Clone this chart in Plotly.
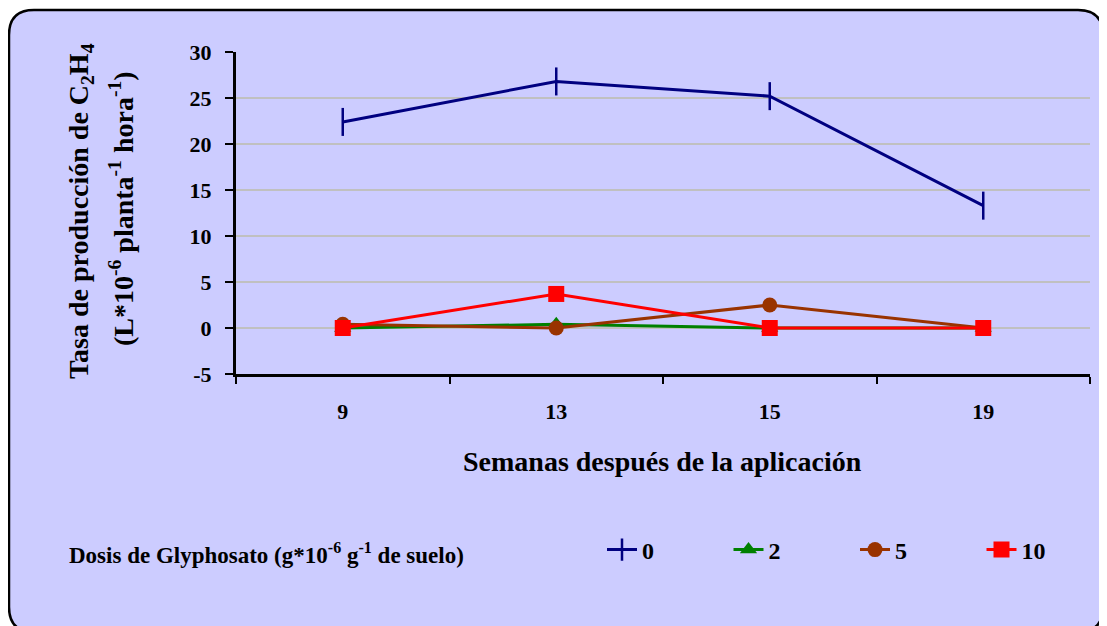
import plotly.graph_objects as go

weeks = ["9", "13", "15", "19"]
dose_0 = [22.4, 26.8, 25.2, 13.3]
dose_2 = [0.0, 0.4, 0.0, 0.0]
dose_5 = [0.4, 0.0, 2.5, 0.0]
dose_10 = [0.0, 3.7, 0.0, 0.0]
y_ticks = [-5, 0, 5, 10, 15, 20, 25, 30]
y_tick_labels = ["-5", "0", "5", "10", "15", "20", "25", "30"]

W, H = 1107, 626
OFF = 8  # page body margin
L, R, T, B = 236, 1090, 52, 374

def px(x):
    return (x - L) / (R - L)

def py(y):
    return (B - y) / (B - T)

FONT = "Liberation Serif, Times New Roman, serif"

fig = go.Figure()
series = [
    ("0", dose_0, "#000080", dict(symbol="line-ns", size=20, line=dict(width=2.5, color="#000080"))),
    ("2", dose_2, "#008000", dict(symbol="triangle-up", size=15, color="#008000")),
    ("5", dose_5, "#993300", dict(symbol="circle", size=15, color="#993300")),
    ("10", dose_10, "#FF0000", dict(symbol="square", size=16, color="#FF0000")),
]
for name, vals, col, mk in series:
    fig.add_trace(go.Scatter(x=weeks, y=vals, name=name, mode="lines+markers",
                             line=dict(color=col, width=3), marker=mk))

# rounded background frame
x0, x1, y0, y1, r = px(9), px(1103), py(10), py(632), 25
rx, ry = r / (R - L), r / (B - T)
path = (f"M {x0+rx},{y0} L {x1-rx},{y0} Q {x1},{y0} {x1},{y0-ry} "
        f"L {x1},{y1+ry} Q {x1},{y1} {x1-rx},{y1} L {x0+rx},{y1} "
        f"Q {x0},{y1} {x0},{y1+ry} L {x0},{y0-ry} Q {x0},{y0} {x0+rx},{y0} Z")
fig.add_shape(type="path", path=path, xref="paper", yref="paper", layer="below",
              fillcolor="#CCCCFF", line=dict(color="black", width=2.5))

bold = lambda s: dict(family=FONT, size=s, color="black", weight="bold")

fig.add_annotation(text="Dosis de Glyphosato (g*10<sup>-6</sup> g<sup>-1</sup> de suelo)",
                   xref="paper", yref="paper", x=px(67), y=py(553), xanchor="left",
                   yanchor="middle", showarrow=False, font=bold(23))
fig.add_annotation(text="Semanas después de la aplicación",
                   xref="paper", yref="paper", x=px(662), y=py(461), xanchor="center",
                   yanchor="middle", showarrow=False, font=bold(28))
fig.add_annotation(text="Tasa de producción de C<sub>2</sub>H<sub>4</sub>",
                   xref="paper", yref="paper", x=px(80), y=py(211), xanchor="center",
                   yanchor="middle", showarrow=False, textangle=-90, font=bold(28))
fig.add_annotation(text="(L*10<sup>-6</sup> planta<sup>-1</sup> hora<sup>-1</sup>)",
                   xref="paper", yref="paper", x=px(121), y=py(208), xanchor="center",
                   yanchor="middle", showarrow=False, textangle=-90, font=bold(28))

fig.update_layout(
    width=W - OFF, height=H - OFF,
    margin=dict(l=L - OFF, r=W - R, t=T - OFF, b=H - B, autoexpand=False),
    paper_bgcolor="white", plot_bgcolor="rgba(0,0,0,0)",
    font=dict(family=FONT, color="black"),
    showlegend=True,
    legend=dict(orientation="h", x=px(602), y=py(550), xanchor="left", yanchor="middle",
                bgcolor="rgba(0,0,0,0)", font=bold(24),
                entrywidth=81.5, entrywidthmode="pixels", tracegroupgap=0),
    xaxis=dict(type="category", range=[-0.5, 3.5], tickson="boundaries",
               ticks="outside", ticklen=7, tickwidth=2, tickcolor="black",
               ticklabelstandoff=16,
               showline=True, linecolor="black", linewidth=3, showgrid=False,
               tickfont=bold(22)),
    yaxis=dict(range=[-5, 30], tickvals=y_ticks, ticktext=y_tick_labels,
               ticks="outside", ticklen=8,
               tickwidth=2, tickcolor="black", showline=True, linecolor="black",
               linewidth=3, showgrid=True, gridcolor="#C0C0C0", gridwidth=1.5,
               zeroline=False, ticklabelstandoff=9,
               tickfont=bold(22)),
)

fig.write_html("out.html")
